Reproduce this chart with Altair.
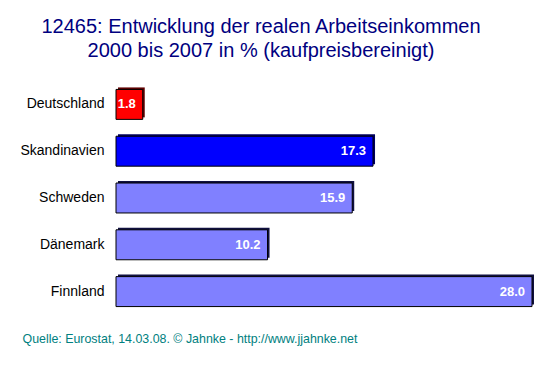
import altair as alt
import pandas as pd

countries = ["Deutschland", "Skandinavien", "Schweden", "Dänemark", "Finnland"]
values = [1.8, 17.3, 15.9, 10.2, 28.0]
groups = ["Deutschland", "Skandinavien", "Land", "Land", "Land"]

group_domain = ["Deutschland", "Skandinavien", "Land"]
front_colors = ["#FF0000", "#0000FF", "#8080FF"]
back_colors = ["#600000", "#000060", "#101040"]

title_lines = ["12465: Entwicklung der realen Arbeitseinkommen",
               "2000 bis 2007 in % (kaufpreisbereinigt)"]
source = "Quelle: Eurostat, 14.03.08. © Jahnke - http://www.jjahnke.net"

df = pd.DataFrame({"country": countries, "value": values, "group": groups})

FONT = "Liberation Sans"

y_enc = alt.Y("country:N", sort=countries,
              scale=alt.Scale(paddingInner=0.36, paddingOuter=0.18),
              axis=alt.Axis(title=None, domain=False, ticks=False, labelPadding=12,
                            labelFontSize=14, labelFont=FONT, labelColor="black"))
x_enc = alt.X("value:Q", scale=alt.Scale(domain=[0, 28], nice=False, zero=True),
              axis=alt.Axis(labels=False, ticks=False, domain=False, grid=False,
                            title=source, titleFont=FONT, titleFontSize=12.4,
                            titleFontWeight="normal", titleColor="#008080",
                            titleAlign="left", titleBaseline="alphabetic",
                            titleX=-94, titleY=27))

base = alt.Chart(df)

back = base.mark_bar(xOffset=2, yOffset=-2).encode(
    x=x_enc, y=y_enc,
    color=alt.Color("group:N", scale=alt.Scale(domain=group_domain, range=back_colors), legend=None),
)
front = base.mark_bar(stroke="black", strokeWidth=1).encode(
    x="value:Q", y=alt.Y("country:N", sort=countries),
    fill=alt.Fill("group:N", scale=alt.Scale(domain=group_domain, range=front_colors), legend=None),
)
labels = base.mark_text(align="right", baseline="middle", dx=-7, color="white",
                        fontWeight="bold", fontSize=13, font=FONT).encode(
    x="value:Q", y=alt.Y("country:N", sort=countries),
    text=alt.Text("value:Q", format=".1f"),
)

chart = alt.layer(back, front, labels).resolve_scale(color="independent").properties(
    width=416, height=234,
    title=alt.TitleParams(text=title_lines, font=FONT, fontSize=20, fontWeight="normal",
                          color="#000080", anchor="middle", dx=-63, offset=20, lineHeight=24),
    autosize=alt.AutoSizeParams(type="none"),
    padding={"left": 108, "top": 73, "right": 13, "bottom": 53},
).configure(background="white").configure_view(stroke=None, strokeWidth=0)

chart.save("out.html", embed_options={"renderer": "svg", "actions": False})
